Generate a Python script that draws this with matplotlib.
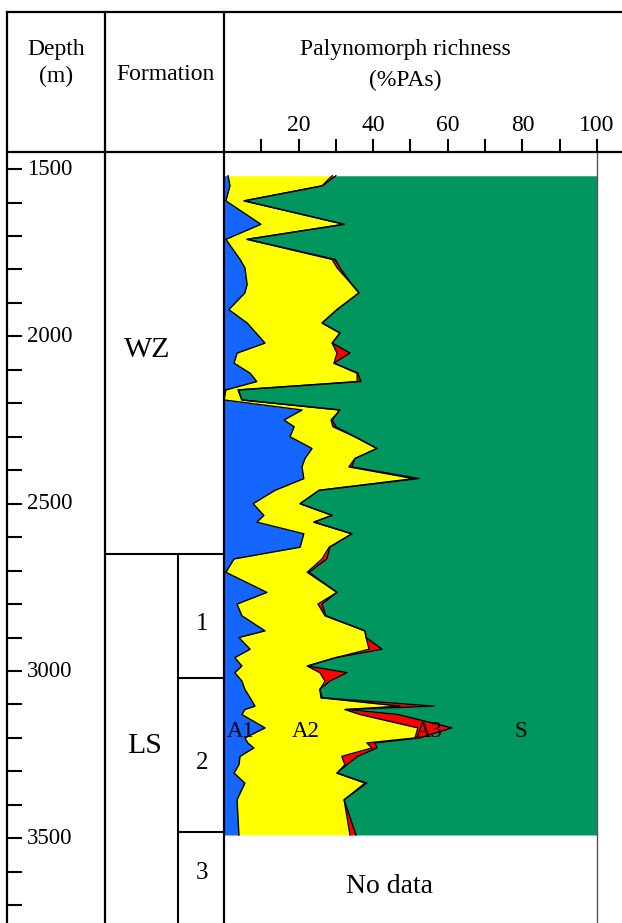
import matplotlib
matplotlib.use("Agg")
import matplotlib.pyplot as plt
from matplotlib.lines import Line2D
import numpy as np

plt.rcParams["font.family"] = ["Liberation Serif", "DejaVu Serif"]

# sample depths (m) and palynomorph group percentages
depth = [1520, 1550, 1595, 1665, 1710, 1770, 1795, 1845, 1870, 1920,
         1960, 1990, 2020, 2050, 2080, 2110, 2135, 2160, 2190, 2220,
         2250, 2270, 2300, 2335, 2365, 2390, 2425, 2460, 2500, 2535,
         2555, 2590, 2630, 2665, 2705, 2765, 2800, 2835, 2880, 2900,
         2935, 2960, 2985, 3005, 3030, 3055, 3080, 3105, 3115, 3130,
         3170, 3200, 3215, 3230, 3255, 3280, 3305, 3335, 3385, 3490]
a1 = [1.1, 1.6, 0.5, 9.9, 0.5, 4.3, 5.6, 6.2, 5.6, 1.3,
      6.2, 8.6, 11.0, 3.5, 2.7, 7.0, 8.8, 0.5, 0.0, 20.9,
      16.1, 18.8, 17.7, 23.6, 21.7, 20.9, 21.4, 13.7, 7.8, 10.7,
      8.8, 21.4, 20.4, 2.7, 0.5, 11.5, 3.5, 4.8, 11.0, 4.0,
      7.0, 2.9, 4.8, 2.9, 4.8, 5.6, 7.0, 8.3, 5.6, 4.8,
      11.0, 5.6, 6.4, 8.0, 4.3, 4.0, 2.7, 5.6, 3.5, 4.0]
a2 = [27.9, 24.7, 4.9, 22.3, 5.7, 24.7, 24.7, 28.1, 30.6, 29.0,
      20.1, 22.5, 18.0, 26.8, 26.8, 28.7, 26.9, 3.3, 4.8, 10.2,
      12.6, 10.4, 17.4, 17.4, 13.4, 12.6, 29.5, 11.8, 12.6, 18.3,
      15.3, 12.9, 7.8, 23.6, 21.8, 18.8, 21.7, 22.3, 26.8, 34.1,
      31.9, 27.1, 17.5, 22.8, 22.3, 20.1, 19.0, 38.9, 26.8, 31.7,
      41.0, 45.6, 31.9, 31.7, 27.3, 28.4, 27.6, 32.2, 28.7, 29.8]
a3 = [1.0, 0.2, 0.0, 0.0, 0.0, 0.8, 0.8, 0.0, 0.0, 0.0,
      0.0, 0.0, 0.0, 3.5, 0.0, 0.2, 1.0, 0.0, 0.0, 0.0,
      0.3, 0.8, 0.0, 0.0, 0.0, 0.8, 1.4, 0.0, 0.0, 0.0,
      0.0, 0.0, 0.2, 1.3, 0.5, 0.0, 1.1, 0.2, 0.0, 0.0,
      3.5, 0.0, 0.2, 7.3, 1.3, 0.0, 0.3, 9.1, 0.6, 10.1,
      9.1, 1.3, 2.2, 1.3, 4.3, 0.6, 0.0, 0.5, 0.0, 1.6]

depth_ticks = [1500, 2000, 2500, 3000, 3500]
richness_ticks = [20, 40, 60, 80, 100]

# formation / member boundaries (m)
formations = [("WZ", 1449, 2650), ("LS", 2650, 3753)]
members = [("1", 2650, 3020), ("2", 3020, 3480), ("3", 3480, 3753)]

colors = {"A1": "#1466FF", "A2": "#FFFF00", "A3": "#FF0000", "S": "#00965E"}

W, H = 622, 923
TOP, HEAD, BOT = 12, 152, 923
X_DEP, X_FORM, X_MEM, X_PLOT, X_END = 7, 105, 178, 224, 597
YLIM = (3753, 1449)
FS = 17


def fx(x):
    return x / W


def fy(y):
    return 1 - y / H


fig = plt.figure(figsize=(W / 100, H / 100), dpi=100)
fig.patch.set_facecolor("white")

# main richness panel
ax = fig.add_axes([fx(X_PLOT), 0, fx(X_END) - fx(X_PLOT), fy(HEAD)])
ax.set_xlim(0, 100)
ax.set_ylim(*YLIM)
d = np.array(depth)
c1 = np.array(a1)
c2 = c1 + np.array(a2)
c3 = c2 + np.array(a3)
ax.fill_betweenx(d, 0, c1, color=colors["A1"], lw=0)
ax.fill_betweenx(d, c1, c2, color=colors["A2"], lw=0)
ax.fill_betweenx(d, c2, c3, color=colors["A3"], lw=0)
ax.fill_betweenx(d, c3, 100, color=colors["S"], lw=0)
for c in (c1, c2, c3):
    ax.plot(c, d, color="black", lw=1.0)
for s in ax.spines.values():
    s.set_visible(False)
ax.spines["right"].set_visible(True)
ax.spines["right"].set_color("#555555")
ax.spines["right"].set_linewidth(1.0)
ax.set_yticks([])
ax.xaxis.tick_top()
ax.set_xticks(richness_ticks)
ax.set_xticks([10, 30, 50, 70, 90], minor=True)
ax.tick_params(axis="x", which="both", direction="out", length=9.5, width=1.5,
               labelsize=FS, pad=2)
ax.text(4.5, 3180, "A1", fontsize=16.5, ha="center", va="center")
ax.text(22, 3180, "A2", fontsize=16.5, ha="center", va="center")
ax.text(55, 3180, "A3", fontsize=16.5, ha="center", va="center")
ax.text(79.5, 3180, "S", fontsize=16.5, ha="center", va="center")
ax.text(44.5, 3645, "No data", fontsize=20, ha="center", va="center")

# depth column
dax = fig.add_axes([fx(X_DEP), 0, fx(X_FORM) - fx(X_DEP), fy(HEAD)])
dax.set_ylim(*YLIM)
dax.set_xlim(0, 1)
for s in dax.spines.values():
    s.set_visible(False)
dax.set_xticks([])
dax.set_yticks(depth_ticks)
dax.set_yticks(np.arange(1600, 3800, 100), minor=True)
dax.tick_params(axis="y", which="both", direction="in", length=11, width=1.5,
                labelleft=False)
for t in depth_ticks:
    dax.text(0.2, t, str(t), fontsize=16.5, ha="left", va="center")

# formation column
fax = fig.add_axes([fx(X_FORM), 0, fx(X_PLOT) - fx(X_FORM), fy(HEAD)])
fax.set_xlim(X_FORM, X_PLOT)
fax.set_ylim(*YLIM)
fax.axis("off")
fax.text(147, 2040, formations[0][0], fontsize=21.5, ha="center", va="center")
fax.text(145, 3225, formations[1][0], fontsize=21.5, ha="center", va="center")
fax.hlines(formations[1][1], X_FORM, X_PLOT, color="black", lw=1.5)
fax.vlines(X_MEM, members[0][1], YLIM[0], color="black", lw=1.5)
for name, top, bot in members:
    if top != members[0][1]:
        fax.hlines(top, X_MEM, X_PLOT, color="black", lw=1.5)
lab_y = {"1": 2860, "2": 3275, "3": 3605}
for name, top, bot in members:
    fax.text(202, lab_y[name], name, fontsize=18, ha="center", va="center")

# frame lines
lines = [
    ([X_DEP, W], [TOP, TOP]),
    ([X_DEP, W], [HEAD, HEAD]),
    ([X_DEP, X_DEP], [TOP, BOT]),
    ([X_FORM, X_FORM], [TOP, BOT]),
    ([X_PLOT, X_PLOT], [TOP, BOT]),
]
for xs, ys in lines:
    fig.add_artist(Line2D([fx(v) for v in xs], [fy(v) for v in ys],
                          color="black", lw=1.6))

# header
fig.text(fx(56), fy(50), "Depth", fontsize=FS, ha="center", va="center")
fig.text(fx(56), fy(76), "(m)", fontsize=FS, ha="center", va="center")
fig.text(fx(165), fy(75), "Formation", fontsize=FS, ha="center", va="center")
fig.text(fx(405), fy(50), "Palynomorph richness", fontsize=FS, ha="center",
         va="center")
fig.text(fx(405), fy(80), "(%PAs)", fontsize=FS, ha="center", va="center")

fig.savefig("out.png", dpi=100)
